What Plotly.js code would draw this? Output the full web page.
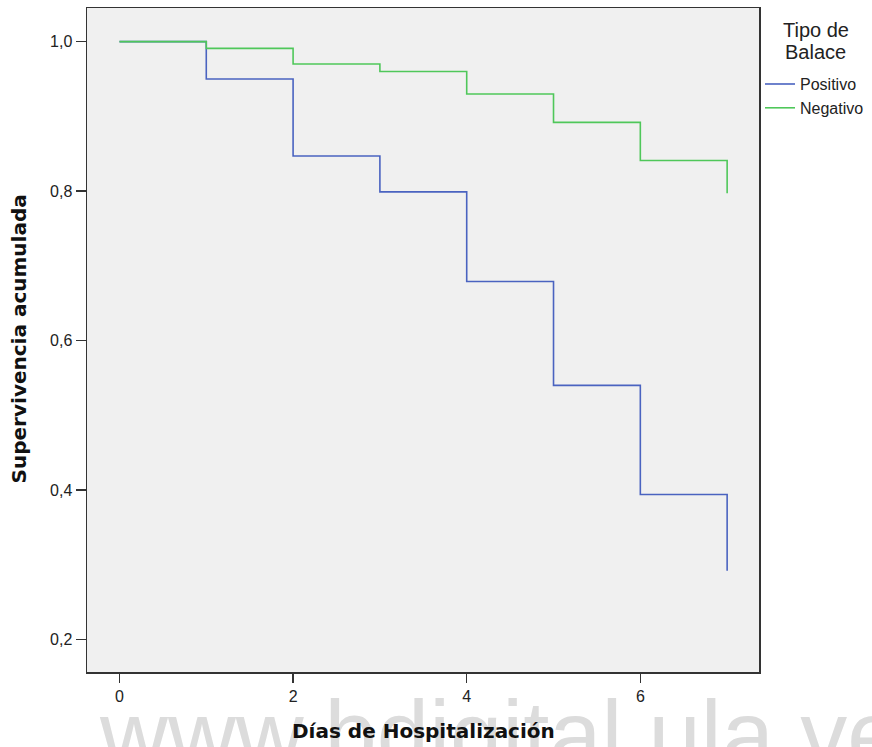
<!DOCTYPE html>
<html>
<head>
<meta charset="utf-8">
<script src="https://cdn.plot.ly/plotly-3.0.1.min.js"></script>
<style>html,body{margin:0;padding:0;background:#fff;}#chart{width:872px;height:747px;}</style>
</head>
<body>
<div id="chart"></div>
<script>
const dias = [0, 1, 2, 3, 4, 5, 6, 7];
const positivo = [1.0, 0.950, 0.847, 0.799, 0.679, 0.540, 0.394, 0.292];
const negativo = [1.0, 0.991, 0.970, 0.960, 0.930, 0.892, 0.841, 0.797];
const seriesNames = ['Positivo', 'Negativo'];
const xTicks = [0, 2, 4, 6];
const yTicks = [0.2, 0.4, 0.6, 0.8, 1.0];
const legendTitleLines = ['Tipo de', 'Balace'];
const xTitle = 'Días de Hospitalización';
const yTitle = 'Supervivencia acumulada';
const watermark = 'www.bdigital.ula.ve';

const traces = [
  {x: dias, y: positivo, name: seriesNames[0], mode: 'lines', line: {shape: 'hv', color: '#4a63c0', width: 1.6}},
  {x: dias, y: negativo, name: seriesNames[1], mode: 'lines', line: {shape: 'hv', color: '#4fc75a', width: 1.6}}
];

const layout = {
  width: 872, height: 747,
  margin: {l: 87, r: 113, t: 8, b: 75, autoexpand: false},
  paper_bgcolor: '#ffffff',
  plot_bgcolor: '#f0f0f0',
  separators: ',.',
  font: {family: 'Liberation Sans, Arial, sans-serif', color: '#222'},
  showlegend: true,
  legend: {
    x: 1.0015, xanchor: 'left', y: 0.911, yanchor: 'top',
    bgcolor: 'rgba(0,0,0,0)', borderwidth: 0,
    font: {size: 16, color: '#222'},
    tracegroupgap: 0
  },
  xaxis: {
    range: [-0.374, 7.367],
    tickvals: xTicks,
    ticktext: xTicks.map(String),
    ticks: 'outside', ticklen: 9, tickwidth: 1.5, tickcolor: '#333',
    showgrid: false, zeroline: false,
    showline: true, linecolor: '#333', linewidth: 1.5, mirror: true,
    tickfont: {size: 16, color: '#222'}
  },
  yaxis: {
    range: [0.1565, 1.045],
    tickvals: yTicks,
    tickformat: '.1f',
    ticks: 'outside', ticklen: 10, tickwidth: 1.5, tickcolor: '#333',
    showgrid: false, zeroline: false,
    showline: true, linecolor: '#333', linewidth: 1.5, mirror: true,
    tickfont: {size: 16, color: '#222'}
  },
  annotations: [
    {text: watermark, xref: 'paper', yref: 'paper', x: 0.0149, xanchor: 'left', y: -0.0941, yanchor: 'middle',
     showarrow: false, font: {size: 94, color: '#dcdcdc', family: 'Liberation Sans, Arial, sans-serif'}},
    {text: '<b>' + xTitle + '</b>', xref: 'paper', yref: 'paper', x: 0.5007, xanchor: 'center', y: -0.0886, yanchor: 'middle',
     showarrow: false, font: {size: 20, color: '#111', family: 'DejaVu Sans, sans-serif'}},
    {text: '<b>' + yTitle + '</b>', xref: 'paper', yref: 'paper', x: -0.1012, xanchor: 'center', y: 0.5024, yanchor: 'middle',
     textangle: -90, showarrow: false, font: {size: 20, color: '#111', family: 'DejaVu Sans, sans-serif'}},
    {text: legendTitleLines[0], xref: 'paper', yref: 'paper', x: 1.0848, xanchor: 'center', y: 0.9669, yanchor: 'middle',
     showarrow: false, font: {size: 20, color: '#222'}},
    {text: legendTitleLines[1], xref: 'paper', yref: 'paper', x: 1.0848, xanchor: 'center', y: 0.9337, yanchor: 'middle',
     showarrow: false, font: {size: 20, color: '#222'}}
  ]
};

Plotly.newPlot('chart', traces, layout, {displayModeBar: false, staticPlot: true});
</script>
</body>
</html>
